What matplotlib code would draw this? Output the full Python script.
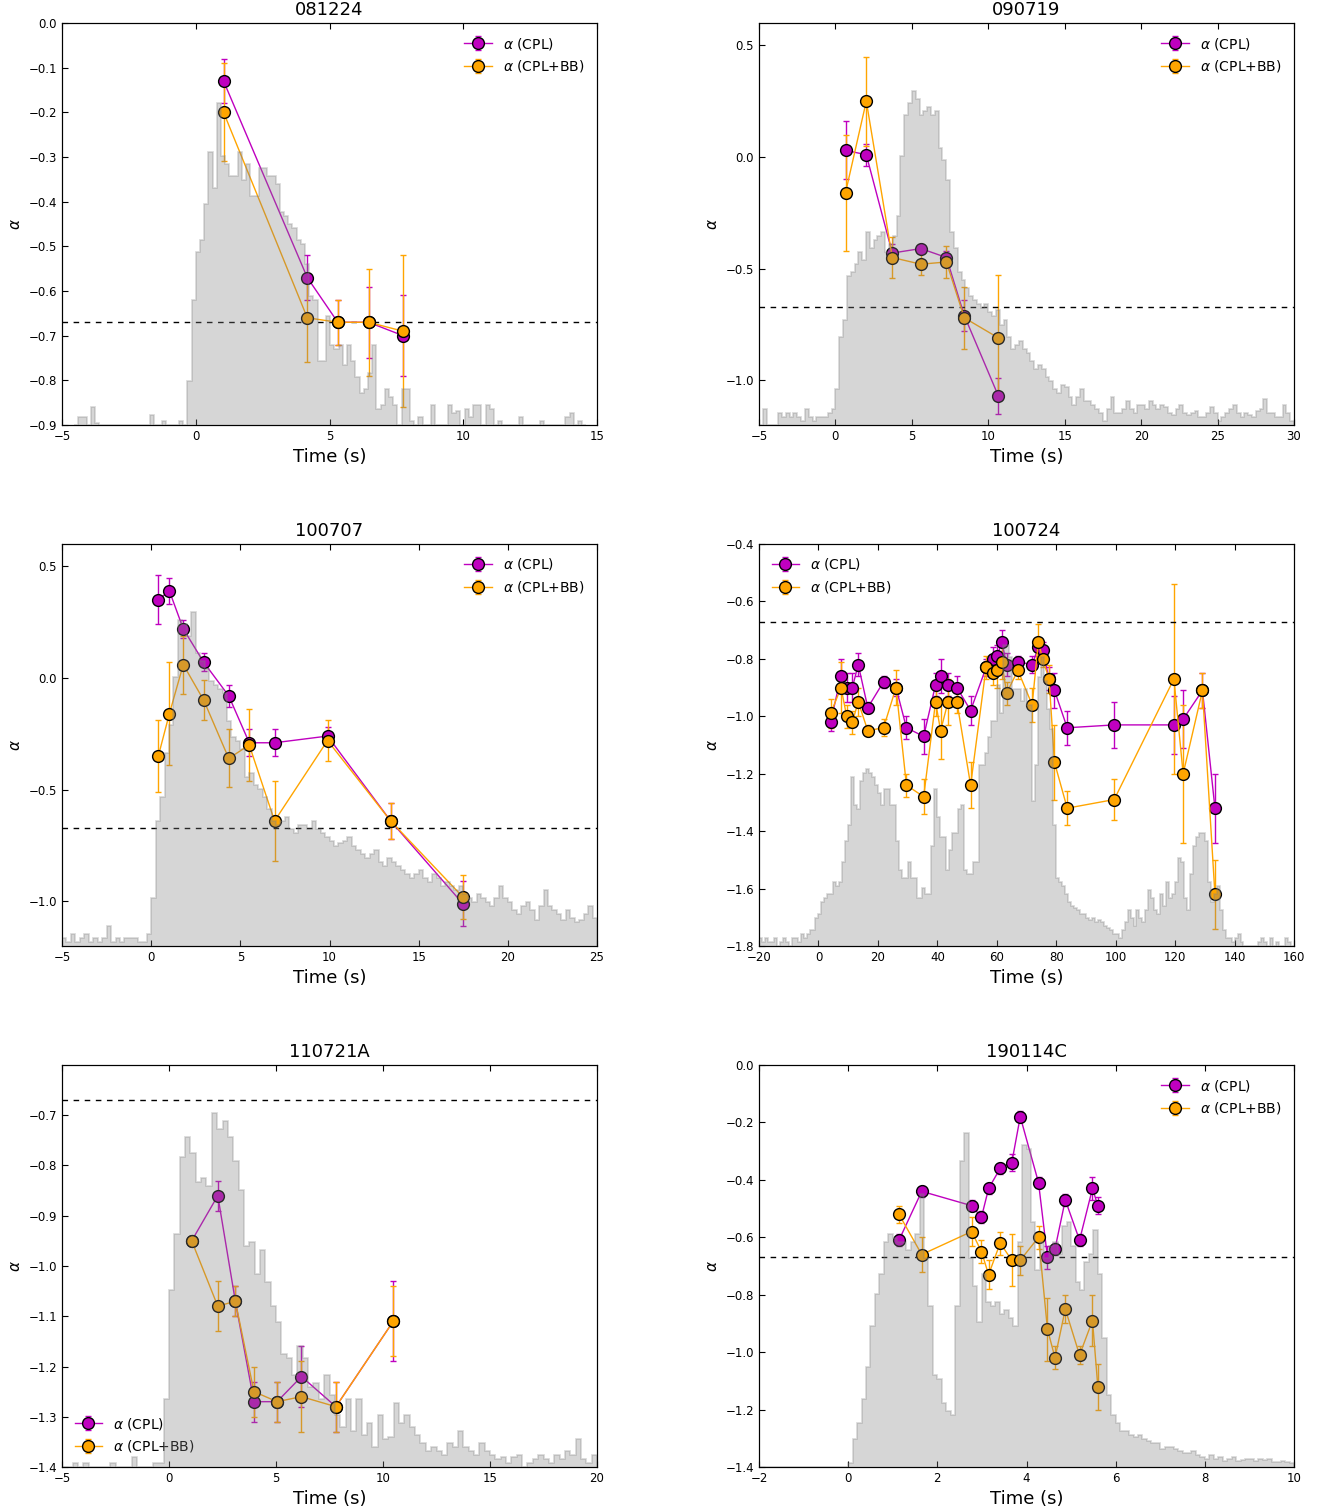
import numpy as np
import matplotlib
matplotlib.use('Agg')
import matplotlib.pyplot as plt

# ---- 081224 ----
t1 = [1.04, 4.17, 5.31, 6.46, 7.75]
cpl1 = [-0.13, -0.57, -0.67, -0.67, -0.70]
cpl1_err = [0.05, 0.05, 0.05, 0.08, 0.09]
bb1 = [-0.20, -0.66, -0.67, -0.67, -0.69]
bb1_err = [0.11, 0.10, 0.05, 0.12, 0.17]
lc1_start, lc1_dt = -4.55, 0.157
lc1 = [0, 0.02, 0.02, 0, 0.044, 0.005, 0, 0, 0, 0,
       0, 0, 0, 0, 0, 0, 0, 0, 0.026, 0,
       0, 0.01, 0, 0, 0, 0.01, 0, 0.11,
       0.31, 0.43, 0.46, 0.55, 0.68, 0.59, 0.80, 0.67, 0.65, 0.62,
       0.62, 0.68, 0.61, 0.65, 0.57, 0.57, 0.64, 0.64, 0.62, 0.62,
       0.60, 0.53, 0.52, 0.50, 0.49, 0.46, 0.45, 0.40, 0.32, 0.31,
       0.16, 0.16, 0.27, 0.20, 0.19, 0.20, 0.15, 0.20, 0.16, 0.12,
       0.08, 0.09, 0.13, 0.20, 0.04, 0.05, 0.09, 0.07, 0.05, 0.0,
       0.09, 0.09, 0.01, 0.0,
       0.02, 0, 0, 0.05, 0, 0, 0, 0.05, 0.03, 0.035,
       0, 0.04, 0.02, 0.05, 0.05, 0, 0.05, 0.04, 0, 0.01,
       0, 0, 0, 0, 0.02, 0, 0, 0, 0, 0.01,
       0, 0, 0, 0, 0, 0.02, 0.03, 0, 0.01, 0]

# ---- 090719 ----
t2 = [0.66, 2.02, 3.72, 5.59, 7.26, 8.43, 10.66]
cpl2 = [0.03, 0.01, -0.43, -0.41, -0.45, -0.71, -1.07]
cpl2_err = [0.13, 0.05, 0.04, 0.02, 0.03, 0.07, 0.08]
bb2 = [-0.16, 0.25, -0.45, -0.48, -0.47, -0.72, -0.81]
bb2_err = [0.26, 0.20, 0.09, 0.05, 0.07, 0.14, 0.28]
lc2_start, lc2_dt = -5.0, 0.25
lc2 = [0.0, 0.04, 0.0, 0.0, 0.0, 0.03, 0.02, 0.03, 0.02, 0.03, 0.02, 0.01,
       0.04, 0.02, 0.01, 0.02, 0.02, 0.02, 0.03, 0.04,
       0.09, 0.22, 0.26, 0.37, 0.38, 0.40, 0.43, 0.41, 0.48, 0.44, 0.46, 0.47,
       0.48, 0.43, 0.45, 0.47, 0.52, 0.67, 0.77, 0.80, 0.83, 0.81, 0.77, 0.78,
       0.79, 0.77, 0.78, 0.69, 0.66, 0.61, 0.48, 0.44, 0.38, 0.36, 0.34, 0.32,
       0.31, 0.30, 0.29, 0.30, 0.28, 0.27, 0.285, 0.25, 0.26, 0.22, 0.19, 0.20,
       0.21, 0.19, 0.18, 0.16, 0.14, 0.15, 0.14, 0.12, 0.11, 0.09, 0.08, 0.10,
       0.095, 0.07, 0.05, 0.07, 0.09, 0.06, 0.06, 0.05, 0.04, 0.03, 0.01, 0.04,
       0.07, 0.03, 0.03, 0.04, 0.06, 0.04, 0.03, 0.05, 0.05, 0.04, 0.06, 0.05,
       0.04, 0.05, 0.045, 0.03, 0.025, 0.04, 0.05, 0.03, 0.025, 0.03, 0.035, 0.02,
       0.02, 0.03, 0.045, 0.03, 0.01, 0.02, 0.03, 0.04, 0.05, 0.03, 0.02, 0.03,
       0.025, 0.02, 0.035, 0.04, 0.065, 0.03, 0.03, 0.02, 0.02, 0.05, 0.03, 0.01]

# ---- 100707 ----
t3 = [0.40, 1.02, 1.80, 2.95, 4.35, 5.50, 6.92, 9.89, 13.43, 17.47]
cpl3 = [0.35, 0.39, 0.22, 0.07, -0.08, -0.29, -0.29, -0.26, -0.64, -1.01]
cpl3_err = [0.11, 0.06, 0.04, 0.04, 0.05, 0.06, 0.06, 0.04, 0.08, 0.10]
bb3 = [-0.35, -0.16, 0.06, -0.10, -0.36, -0.30, -0.64, -0.28, -0.64, -0.98]
bb3_err = [0.16, 0.23, 0.13, 0.09, 0.13, 0.16, 0.18, 0.09, 0.08, 0.10]
lc3_start, lc3_dt = -5.0, 0.25
lc3 = [0.02, 0.01, 0.03, 0.01, 0.02, 0.03, 0.01, 0.02, 0.01, 0.02, 0.05, 0.01,
       0.02, 0.01, 0.02, 0.02, 0.02, 0.01, 0.01, 0.03,
       0.12, 0.31, 0.37, 0.48, 0.55, 0.67, 0.81, 0.80, 0.77, 0.83, 0.73, 0.71,
       0.69, 0.66, 0.65, 0.64, 0.63, 0.56, 0.52, 0.51, 0.49, 0.42, 0.43, 0.40,
       0.39, 0.37, 0.34, 0.31, 0.30, 0.31, 0.32, 0.29, 0.28, 0.30, 0.30, 0.29,
       0.31, 0.29, 0.28, 0.27, 0.26, 0.25, 0.255, 0.26, 0.27, 0.25, 0.24, 0.23,
       0.22, 0.23, 0.24, 0.21, 0.20, 0.22, 0.21, 0.20, 0.19, 0.18, 0.17, 0.18,
       0.19, 0.17, 0.16, 0.18, 0.17, 0.15, 0.16, 0.15, 0.14, 0.15, 0.13, 0.12,
       0.11, 0.13, 0.12, 0.11, 0.10, 0.12, 0.15, 0.12, 0.11, 0.09, 0.08, 0.10,
       0.11, 0.09, 0.065, 0.10, 0.14, 0.10, 0.09, 0.08, 0.065, 0.09, 0.07, 0.06,
       0.065, 0.08, 0.10, 0.07]

# ---- 100724 ----
t4 = [4.1, 7.6, 9.5, 11.4, 13.4, 16.6, 21.9, 26.1, 29.6, 35.4, 39.4, 41.1,
      43.6, 46.6, 51.2, 56.4, 58.6, 60.2, 61.7, 63.3, 67.1, 71.9, 74.0, 75.4,
      77.6, 79.4, 83.7, 99.5, 119.6, 122.7, 129.2, 133.4]
cpl4 = [-1.02, -0.86, -0.90, -0.90, -0.82, -0.97, -0.88, -0.90, -1.04, -1.07,
        -0.89, -0.86, -0.89, -0.90, -0.98, -0.83, -0.80, -0.79, -0.74, -0.82,
        -0.81, -0.82, -0.76, -0.77, -0.87, -0.91, -1.04, -1.03, -1.03, -1.01,
        -0.91, -1.32]
cpl4_err = [0.03, 0.06, 0.05, 0.05, 0.04, 0.02, 0.02, 0.03, 0.04, 0.06, 0.04,
            0.06, 0.04, 0.04, 0.05, 0.03, 0.04, 0.04, 0.04, 0.04, 0.02, 0.03,
            0.03, 0.03, 0.04, 0.06, 0.06, 0.08, 0.10, 0.10, 0.06, 0.12]
bb4 = [-0.99, -0.90, -1.00, -1.02, -0.95, -1.05, -1.04, -0.90, -1.24, -1.28,
       -0.95, -1.05, -0.95, -0.95, -1.24, -0.83, -0.85, -0.84, -0.81, -0.92,
       -0.84, -0.96, -0.74, -0.80, -0.87, -1.16, -1.32, -1.29, -0.87, -1.20,
       -0.91, -1.62]
bb4_err = [0.05, 0.09, 0.04, 0.04, 0.05, 0.02, 0.03, 0.06, 0.04, 0.06, 0.05,
           0.10, 0.08, 0.04, 0.08, 0.04, 0.04, 0.06, 0.06, 0.04, 0.03, 0.06,
           0.06, 0.03, 0.05, 0.13, 0.06, 0.07, 0.33, 0.24, 0.06, 0.12]
lc4_start, lc4_dt = -20.0, 1.0
lc4 = [0.02, 0.01, 0.02, 0.01, 0.01, 0.02, 0.0, 0.01, 0.02, 0.01,
       0.0, 0.02, 0.02, 0.01, 0.03, 0.02, 0.03, 0.04, 0.04, 0.07,
       0.08, 0.11, 0.12, 0.13, 0.13, 0.16, 0.15, 0.16, 0.21, 0.26,
       0.30, 0.42, 0.35, 0.34, 0.41, 0.43, 0.44, 0.43, 0.42, 0.40,
       0.38, 0.35, 0.39, 0.39, 0.35, 0.35, 0.26, 0.19, 0.17, 0.17,
       0.21, 0.17, 0.17, 0.12, 0.12, 0.145, 0.13, 0.13, 0.25, 0.39,
       0.32, 0.27, 0.27, 0.19, 0.24, 0.28, 0.28, 0.34, 0.35, 0.19,
       0.18, 0.18, 0.21, 0.21, 0.45, 0.45, 0.48, 0.52, 0.56, 0.56,
       0.65, 0.58, 0.75, 0.75, 0.72, 0.64, 0.64, 0.64, 0.61, 0.64,
       0.60, 0.60, 0.36, 0.45, 0.67, 0.72, 0.66, 0.59, 0.54, 0.30,
       0.17, 0.16, 0.15, 0.13, 0.11, 0.10, 0.095, 0.09, 0.08, 0.08,
       0.07, 0.065, 0.07, 0.06, 0.065, 0.06, 0.05, 0.045, 0.04, 0.03,
       0.03, 0.02, 0.04, 0.06, 0.09, 0.07, 0.05, 0.09, 0.07, 0.06,
       0.09, 0.14, 0.12, 0.09, 0.08, 0.13, 0.10, 0.16, 0.12, 0.13,
       0.16, 0.22, 0.21, 0.12, 0.09, 0.18, 0.25, 0.27, 0.28, 0.28,
       0.26, 0.16, 0.11, 0.13, 0.15, 0.09, 0.04, 0.02, 0.02, 0.01,
       0.02, 0.03, 0.01, 0.0, 0.0, 0.0, 0.0, 0.0, 0.01, 0.02,
       0.01, 0.0, 0.02, 0.0, 0.01, 0.0, 0.0, 0.02, 0.01, 0.0]

# ---- 110721A ----
t5 = [1.06, 2.28, 3.10, 3.97, 5.05, 6.19, 7.80, 10.48]
cpl5 = [-0.95, -0.86, -1.07, -1.27, -1.27, -1.22, -1.28, -1.11]
cpl5_err = [0.01, 0.03, 0.03, 0.04, 0.04, 0.06, 0.05, 0.08]
bb5 = [-0.95, -1.08, -1.07, -1.25, -1.27, -1.26, -1.28, -1.11]
bb5_err = [0.01, 0.05, 0.03, 0.05, 0.04, 0.07, 0.05, 0.07]
lc5_start, lc5_dt = -5.0, 0.25
lc5 = [0.0, 0.0, 0.01, 0.0, 0.01, 0.0, 0.0, 0.0, 0.0, 0.01, 0.0, 0.0,
       0.0, 0.025, 0.0, 0.0, 0.0, 0.01, 0.01, 0.17,
       0.44, 0.58, 0.77, 0.82, 0.78, 0.71, 0.72, 0.70, 0.88, 0.84, 0.86, 0.82,
       0.76, 0.69, 0.55, 0.56, 0.48, 0.54, 0.46, 0.40, 0.36, 0.28, 0.27, 0.23,
       0.30, 0.27, 0.20, 0.21, 0.17, 0.23, 0.18, 0.13, 0.10, 0.17, 0.09, 0.17,
       0.08, 0.11, 0.05, 0.13, 0.07, 0.075, 0.16, 0.11, 0.13, 0.10, 0.08, 0.06,
       0.04, 0.05, 0.04, 0.03, 0.06, 0.05, 0.09, 0.05, 0.04, 0.03, 0.06, 0.04,
       0.03, 0.02, 0.025, 0.01, 0.025, 0.03, 0.0, 0.01, 0.02, 0.03, 0.02, 0.01,
       0.03, 0.02, 0.04, 0.03, 0.07, 0.02, 0.01, 0.03]

# ---- 190114C ----
t6 = [1.14, 1.65, 2.77, 2.99, 3.15, 3.41, 3.67, 3.86, 4.27, 4.47, 4.64, 4.87,
      5.19, 5.48, 5.60]
cpl6 = [-0.61, -0.44, -0.49, -0.53, -0.43, -0.36, -0.34, -0.18, -0.41, -0.67,
        -0.64, -0.47, -0.61, -0.43, -0.49]
cpl6_err = [0.02, 0.02, 0.02, 0.02, 0.02, 0.02, 0.03, 0.02, 0.02, 0.04, 0.02,
            0.02, 0.02, 0.04, 0.03]
bb6 = [-0.52, -0.66, -0.58, -0.65, -0.73, -0.62, -0.68, -0.68, -0.60, -0.92,
       -1.02, -0.85, -1.01, -0.89, -1.12]
bb6_err = [0.03, 0.06, 0.05, 0.04, 0.05, 0.04, 0.09, 0.05, 0.04, 0.11, 0.04,
           0.05, 0.03, 0.09, 0.08]
lc6_start, lc6_dt = -2.0, 0.1
lc6 = [0.0] * 20 + [
    0.01, 0.07, 0.11, 0.17, 0.25, 0.35, 0.43, 0.48, 0.56, 0.58,
    0.57, 0.56, 0.56, 0.54, 0.56, 0.58, 0.68, 0.52, 0.40, 0.23,
    0.22, 0.16, 0.14, 0.13, 0.40, 0.76, 0.83, 0.52, 0.45, 0.36,
    0.48, 0.41, 0.40, 0.41, 0.38, 0.39, 0.37, 0.35, 0.56, 0.80,
    0.79, 0.61, 0.49, 0.56, 0.52, 0.55, 0.56, 0.53, 0.60, 0.61,
    0.55, 0.46, 0.44, 0.51, 0.53, 0.59, 0.48, 0.32, 0.18, 0.13,
    0.11, 0.09, 0.09, 0.08, 0.075, 0.08, 0.07, 0.065, 0.06, 0.06,
    0.045, 0.05, 0.05, 0.045, 0.04, 0.035, 0.035, 0.04, 0.03, 0.025,
    0.02, 0.03, 0.02, 0.025, 0.015, 0.02, 0.025, 0.015, 0.018, 0.02,
    0.02, 0.015, 0.02, 0.018, 0.02, 0.012, 0.012, 0.015, 0.012, 0.01]

W, H = 1329.0, 1512.0
fig = plt.figure(figsize=(W / 100, H / 100), dpi=100)


def rect(left, top, w=535, h=402):
    return [left / W, 1 - (top + h) / H, w / W, h / H]


def panel(r, title, t, cpl, cpl_err, bb, bb_err, lc, lc_start, lc_dt,
          xlim, ylim, xticks, yticks, loc):
    ax = fig.add_axes(r)
    ax.errorbar(t, cpl, yerr=cpl_err, fmt='o-', color='m', ms=8.5, mec='k',
                mew=1, lw=1, capsize=2.5, label=r'$\alpha$ (CPL)')
    ax.errorbar(t, bb, yerr=bb_err, fmt='o-', color='orange', ms=8.5, mec='k',
                mew=1, lw=1, capsize=2.5, label=r'$\alpha$ (CPL+BB)')
    ax.axhline(-0.67, color='k', ls='--', lw=1, dashes=(4, 4))
    ax.set_xlim(xlim)
    ax.set_ylim(ylim)
    ax.set_xticks(xticks)
    ax.set_yticks(yticks)
    ax.tick_params(direction='in', top=True, right=True, labelsize=8.5, length=4)
    ax.set_title(title, fontsize=13)
    ax.set_xlabel('Time (s)', fontsize=13)
    ax.set_ylabel(r'$\alpha$', fontsize=11)
    ax.legend(loc=loc, frameon=False, numpoints=1, fontsize=10)

    # light curve on top (semi transparent)
    ax2 = ax.twinx()
    edges = lc_start + lc_dt * np.arange(len(lc) + 1)
    ax2.stairs(lc, edges, fill=True, facecolor='gray', edgecolor='gray',
               alpha=0.32, lw=1.2)
    ax2.set_ylim(0, 1)
    ax2.set_yticks([])
    ax2.set_xlim(xlim)


panel(rect(62, 23), '081224', t1, cpl1, cpl1_err, bb1, bb1_err,
      lc1, lc1_start, lc1_dt, (-5, 15), (-0.9, 0.0),
      np.arange(-5, 16, 5), np.arange(-0.9, 0.01, 0.1), 'upper right')
panel(rect(759, 23), '090719', t2, cpl2, cpl2_err, bb2, bb2_err,
      lc2, lc2_start, lc2_dt, (-5, 30), (-1.2, 0.6),
      np.arange(-5, 31, 5), [-1.0, -0.5, 0.0, 0.5], 'upper right')
panel(rect(62, 544), '100707', t3, cpl3, cpl3_err, bb3, bb3_err,
      lc3, lc3_start, lc3_dt, (-5, 25), (-1.2, 0.6),
      np.arange(-5, 26, 5), [-1.0, -0.5, 0.0, 0.5], 'upper right')
panel(rect(759, 544), '100724', t4, cpl4, cpl4_err, bb4, bb4_err,
      lc4, lc4_start, lc4_dt, (-20, 160), (-1.8, -0.4),
      np.arange(-20, 161, 20), np.arange(-1.8, -0.39, 0.2), 'upper left')
panel(rect(62, 1065), '110721A', t5, cpl5, cpl5_err, bb5, bb5_err,
      lc5, lc5_start, lc5_dt, (-5, 20), (-1.4, -0.6),
      np.arange(-5, 21, 5), np.arange(-1.4, -0.69, 0.1), 'lower left')
panel(rect(759, 1065), '190114C', t6, cpl6, cpl6_err, bb6, bb6_err,
      lc6, lc6_start, lc6_dt, (-2, 10), (-1.4, 0.0),
      np.arange(-2, 11, 2), np.arange(-1.4, 0.01, 0.2), 'upper right')

plt.savefig('out.png', dpi=100, facecolor='white')
plt.close()
